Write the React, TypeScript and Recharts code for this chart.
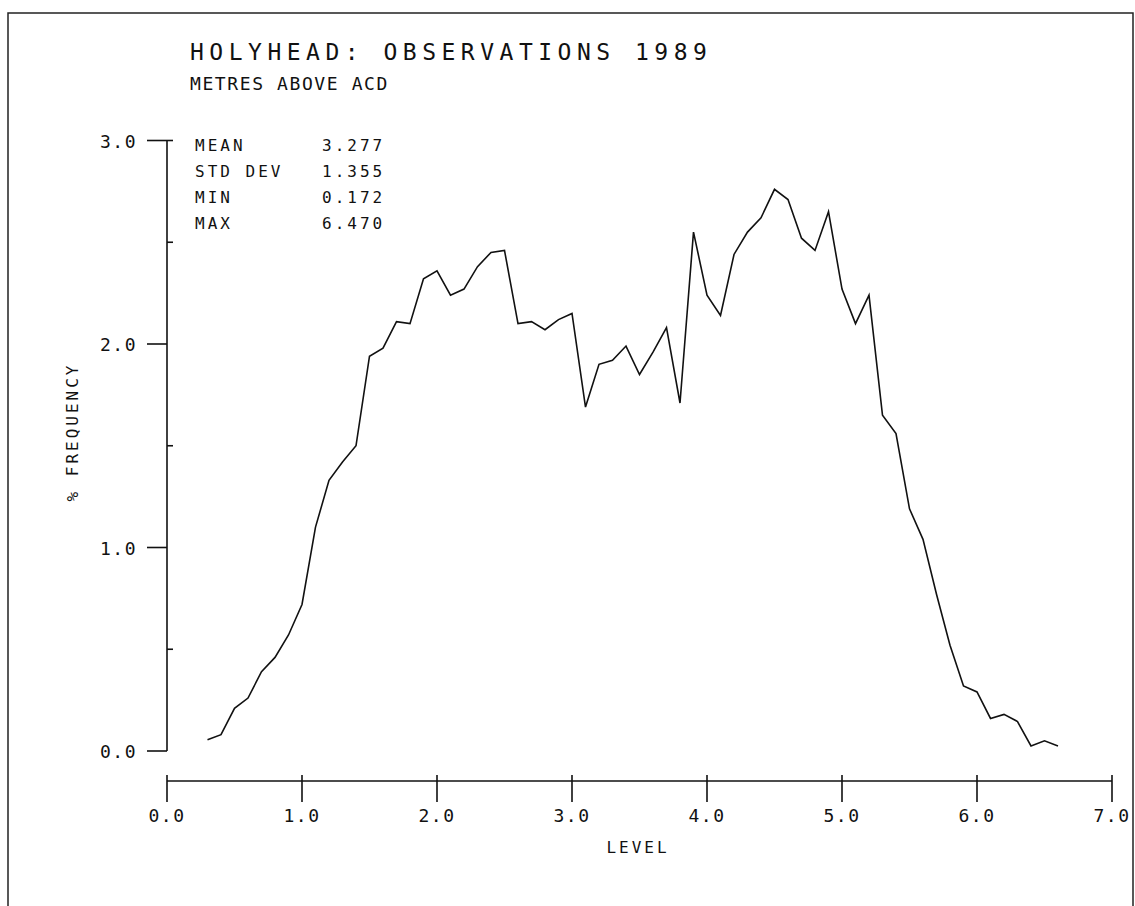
import { LineChart, Line, XAxis, YAxis } from "recharts";

const levels = [
  0.3, 0.4, 0.5, 0.6, 0.7, 0.8, 0.9, 1.0, 1.1, 1.2, 1.3, 1.4, 1.5, 1.6, 1.7, 1.8,
  1.9, 2.0, 2.1, 2.2, 2.3, 2.4, 2.5, 2.6, 2.7, 2.8, 2.9, 3.0, 3.1, 3.2, 3.3, 3.4,
  3.5, 3.6, 3.7, 3.8, 3.9, 4.0, 4.1, 4.2, 4.3, 4.4, 4.5, 4.6, 4.7, 4.8, 4.9, 5.0,
  5.1, 5.2, 5.3, 5.4, 5.5, 5.6, 5.7, 5.8, 5.9, 6.0, 6.1, 6.2, 6.3, 6.4, 6.5, 6.6,
];

const frequency = [
  0.055, 0.08, 0.21, 0.26, 0.39, 0.46, 0.57, 0.72, 1.1, 1.33, 1.42, 1.5, 1.94, 1.98, 2.11, 2.1,
  2.32, 2.36, 2.24, 2.27, 2.38, 2.45, 2.46, 2.1, 2.11, 2.07, 2.12, 2.15, 1.69, 1.9, 1.92, 1.99,
  1.85, 1.96, 2.08, 1.71, 2.55, 2.24, 2.14, 2.44, 2.55, 2.62, 2.76, 2.71, 2.52, 2.46, 2.65, 2.27,
  2.1, 2.24, 1.65, 1.56, 1.19, 1.04, 0.77, 0.52, 0.32, 0.29, 0.16, 0.18, 0.145, 0.025, 0.05, 0.025,
];

const xTicks = [0, 1, 2, 3, 4, 5, 6, 7];
const yTicks = [0, 0.5, 1, 1.5, 2, 2.5, 3];

const statLabels = ["MEAN", "STD DEV", "MIN", "MAX"];
const statValues = ["3.277", "1.355", "0.172", "6.470"];

const data = levels.map((level, i) => ({ level, frequency: frequency[i] }));

const FONT = '"DejaVu Sans Mono", monospace';
const INK = "#111";
// the level axis sits a little below the zero line
const AXIS_DROP = 30;

function XTick(props: any) {
  const { x, y, payload } = props;
  const ay = y + AXIS_DROP;
  return (
    <g>
      <line x1={x} x2={x} y1={ay - 6} y2={ay + 21} stroke={INK} strokeWidth={1.6} />
      <text x={x} y={ay + 41} textAnchor="middle" fontFamily={FONT} fontSize={18} letterSpacing={1.5} fill={INK}>
        {payload.value.toFixed(1)}
      </text>
    </g>
  );
}

function YTick(props: any) {
  const { x, y, payload } = props;
  const v = payload.value;
  if (v % 1 !== 0) {
    return <line x1={x} x2={x + 6} y1={y} y2={y} stroke={INK} strokeWidth={1.6} />;
  }
  return (
    <g>
      <line x1={x - 20} x2={x} y1={y} y2={y} stroke={INK} strokeWidth={1.6} />
      {v === 3 && <line x1={x} x2={x + 6} y1={y} y2={y} stroke={INK} strokeWidth={1.6} />}
      <text x={x - 30} y={y + 7} textAnchor="end" fontFamily={FONT} fontSize={18} letterSpacing={1.5} fill={INK}>
        {v.toFixed(1)}
      </text>
    </g>
  );
}

export default function App() {
  return (
    <div
      className="holyhead"
      style={{ position: "absolute", left: 0, top: 0, width: 1135, height: 906, background: "#fff" }}
    >
      <style>{`.holyhead .recharts-xAxis .recharts-cartesian-axis-line { transform: translateY(${AXIS_DROP}px); }`}</style>
      <LineChart
        width={1135}
        height={906}
        data={data}
        margin={{ top: 140.5, right: 23, bottom: 95, left: 107 }}
      >
        <XAxis
          dataKey="level"
          type="number"
          domain={[0, 7]}
          ticks={xTicks}
          interval={0}
          height={60}
          axisLine={{ stroke: INK, strokeWidth: 1.6 }}
          tickLine={false}
          tickSize={0}
          tickMargin={0}
          tick={<XTick />}
        />
        <YAxis
          type="number"
          domain={[0, 3]}
          ticks={yTicks}
          interval={0}
          width={60}
          axisLine={{ stroke: INK, strokeWidth: 1.6 }}
          tickLine={false}
          tickSize={0}
          tickMargin={0}
          tick={<YTick />}
        />
        <Line
          type="linear"
          dataKey="frequency"
          stroke={INK}
          strokeWidth={1.6}
          dot={false}
          isAnimationActive={false}
        />
      </LineChart>
      <svg
        width={1135}
        height={906}
        style={{ position: "absolute", left: 0, top: 0, pointerEvents: "none" }}
      >
        <polyline points="8,920 8,13 1133,13 1133,920" fill="none" stroke="#222" strokeWidth={1.5} />
        <text x={190} y={60} fontFamily={FONT} fontSize={23} letterSpacing={5.5} fill={INK}>
          HOLYHEAD: OBSERVATIONS 1989
        </text>
        <text x={190} y={90} fontFamily={FONT} fontSize={18} letterSpacing={1.6} fill={INK}>
          METRES ABOVE ACD
        </text>
        {statLabels.map((label, i) => (
          <g key={label}>
            <text x={195} y={151 + i * 26} fontFamily={FONT} fontSize={16} letterSpacing={3} fill={INK}>
              {label}
            </text>
            <text x={322} y={151 + i * 26} fontFamily={FONT} fontSize={16} letterSpacing={3} fill={INK}>
              {statValues[i]}
            </text>
          </g>
        ))}
        <text
          x={72}
          y={432}
          transform="rotate(-90 72 432)"
          textAnchor="middle"
          dominantBaseline="central"
          fontFamily={FONT}
          fontSize={16}
          letterSpacing={3}
          fill={INK}
        >
          % FREQUENCY
        </text>
        <text x={638} y={853} textAnchor="middle" fontFamily={FONT} fontSize={16} letterSpacing={3} fill={INK}>
          LEVEL
        </text>
      </svg>
    </div>
  );
}
